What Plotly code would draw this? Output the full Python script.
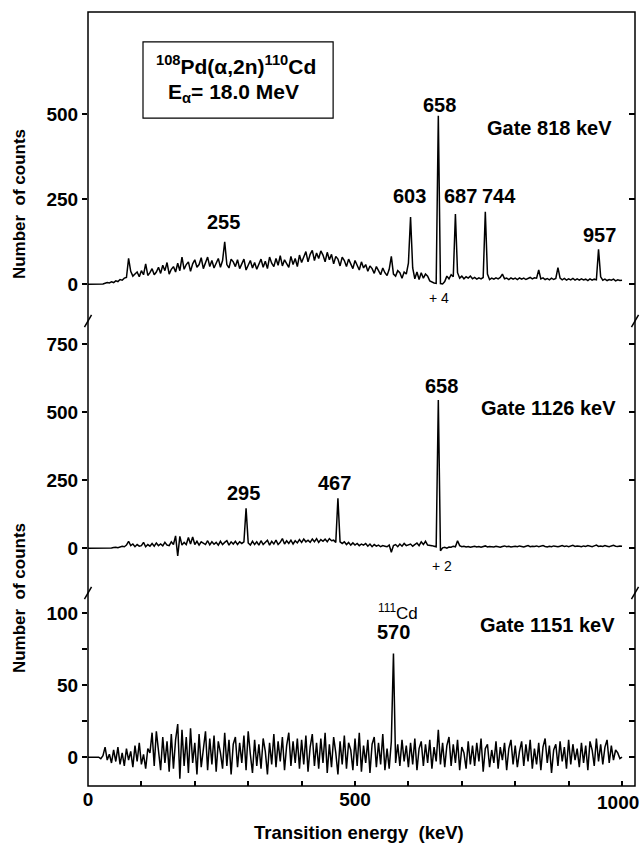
import plotly.graph_objects as go

# ---------------- data ----------------
ENERGY_KEV = list(range(0, 1001, 4))  # 4-keV channel grid, 0 ... 1000 keV

GATE_818 = [
    0, 0, 0, 0, 0, 1, 2, 1, 3, 5,
    4, 7, 5, 10, 8, 14, 12, 18, 20, 76,
    38, 24, 30, 36, 22, 40, 28, 60, 26, 34,
    46, 28, 36, 50, 32, 56, 40, 64, 30, 44,
    52, 36, 62, 40, 80, 44, 58, 66, 38, 60,
    72, 50, 58, 78, 46, 64, 80, 52, 70, 48,
    62, 76, 50, 70, 125, 58, 48, 74, 66, 52,
    72, 46, 60, 74, 42, 56, 70, 48, 64, 44,
    58, 74, 50, 68, 46, 80, 62, 52, 76, 56,
    84, 54, 72, 62, 50, 82, 58, 76, 52, 86,
    64, 80, 96, 66, 88, 100, 70, 92, 76, 98,
    86, 66, 94, 72, 88, 60, 82, 74, 54, 80,
    70, 52, 74, 60, 46, 70, 56, 42, 66, 48,
    58, 38, 54, 46, 32, 52, 40, 28, 48, 34,
    26, 44, 82, 30, 24, 40, 34, 18, 36, 30,
    62, 198, 48, 16, 36, 14, 34, 18, 30, 24,
    10, 6, 4, 3, 496, 2, 1, 8, 24, 16,
    28, 22, 207, 34, 18, 24, 16, 22, 18, 24,
    16, 20, 15, 19, 16, 20, 213, 30, 14, 18,
    15, 19, 16, 20, 30, 16, 18, 14, 19, 15,
    18, 14, 19, 15, 18, 14, 17, 20, 16, 19,
    18, 42, 16, 19, 14, 17, 13, 18, 14, 17,
    49, 18, 13, 17, 12, 16, 13, 17, 12, 16,
    12, 16, 13, 15, 11, 16, 12, 15, 13, 103,
    22, 12, 15, 11, 14, 12, 15, 10, 13, 11,
    12,
]

GATE_1126 = [
    0, 0, 0, 0, 0, 0, 0, 0, 1, 0,
    2, 1, 3, 4, 2, 5, 8, 6, 12, 26,
    10, 16, 6, 14, 8, 10, 22, 6, 14, 8,
    18, 8, 20, 10, 16, 9, 22, 12, 10, 24,
    14, 46, -28, 44, 12, 22, 14, 40, 16, 42,
    14, 26, 12, 24, 18, 14, 28, 13, 24, 15,
    22, 12, 26, 14, 22, 28, 12, 24, 16, 26,
    14, 24, 18, 24, 147, 20, 12, 26, 14, 24,
    12, 28, 14, 22, 30, 12, 26, 16, 30, 14,
    22, 36, 16, 28, 18, 30, 16, 28, 20, 32,
    22, 34, 24, 30, 22, 34, 24, 36, 22, 32,
    26, 34, 24, 36, 28, 30, 22, 184, 24, 18,
    24, 14, 22, 12, 20, 12, 18, 10, 16, 12,
    18, 8, 16, 6, 14, 8, 12, 6, 10, 8,
    6, 12, -14, 10, 14, 6, 16, 8, 18, 10,
    12, 16, 8, 14, 20, 10, 24, 14, 26, 12,
    12, 10, 8, 6, 545, -9, 2, 4, 1, 5,
    4, 8, 6, 28, 10, 6, 8, 5, 7, 4,
    6, 8, 5, 7, 4, 6, 9, 5, 7, 6,
    5, 8, 6, 4, 7, 9, 6, 8, 5, 7,
    8, 6, 9, 7, 5, 8, 10, 6, 8, 7,
    9, 6, 8, 10, 7, 5, 8, 6, 9, 7,
    6, 8, 10, 7, 9, 6, 8, 11, 7, 9,
    8, 6, 9, 7, 10, 8, 6, 9, 12, 7,
    9, 7, 10, 8, 6, 9, 11, 8, 7, 9,
    8,
]

GATE_1151 = [
    0, 0, 0, 0, 0, 0, -1, 1, 7, -2,
    2, -4, 5, -3, 7, -5, 3, -6, 6, -2,
    4, -7, 8, -3, 10, -5, 2, -8, 6, 3,
    17, -6, 18, 2, -9, 14, -4, 11, -10, 16,
    -8, 12, 23, -15, 19, -6, 14, -11, 20, -4,
    10, -12, 16, -7, 8, 18, -9, 13, -5, 15,
    -10, 11, 3, -8, 17, -6, 12, -12, 9, 14,
    -7, 10, -4, 15, -9, 18, 2, -11, 12, -6,
    9, -8, 13, 4, -12, 10, -5, 16, -7, 11,
    -3, 14, -9, 8, 17, -6, 11, -4, 13, -8,
    12, -5, 15, -10, 7, 16, -6, 10, -8, 13,
    -4, 17, -11, 9, -7, 14, 3, -12, 11, -5,
    15, -8, 10, 5, -9, 13, -6, 17, -10, 8,
    -4, 12, -11, 9, 14, -7, 10, -5, 16, -9,
    6, -8, 11, 72, -4, 9, -6, 12, -3, 8,
    -7, 10, -5, 13, -9, 6, 11, -6, 9, -4,
    12, -8, 7, -3, 19, -5, 10, -7, 8, 14,
    -6, 9, -4, 12, -9, 7, 3, -8, 11, -5,
    8, -6, 10, -3, 13, -10, 6, 9, -7, 5,
    -4, 11, -8, 7, -2, 10, -9, 6, 12, -5,
    8, -7, 4, 11, -6, 9, -3, 12, -8, 6,
    -5, 10, -9, 7, 13, -4, 8, -11, 5, 9,
    -6, 11, -3, 7, -8, 12, -5, 9, -2, 6,
    -7, 10, -4, 8, -9, 11, 5, -6, 13, -3,
    9, -5, 7, 12, -4, 8, -2, 5, 3, -1,
    0,
]

X_TICKS = [0, 100, 200, 300, 400, 500, 600, 700, 800, 900, 1000]
X_TICKTEXT = ["0", "", "", "", "", "500", "", "", "", "", ""]
X_END_LABEL = "1000"  # drawn as annotation, nudged left to stay in the page
Y1_TICKS = [0, 250, 500]
Y2_TICKS = [0, 250, 500, 750]
Y3_TICKS = [0, 25, 50, 75, 100]
Y3_TICKTEXT = ["0", "", "50", "", "100"]

# peak labels: (text, energy, counts)
LABELS_818 = [("255", 253, 184), ("603", 602, 260), ("658", 659, 527),
              ("687", 698, 260), ("744", 770, 260), ("957", 957, 145)]
LABELS_1126 = [("295", 291, 202), ("467", 462, 241), ("658", 662, 598)]
LABELS_1151 = [("570", 572, 87)]

# ---------------- figure ----------------
FONT = "Liberation Sans, Arial, Helvetica, sans-serif"
BOLD20 = dict(family=FONT, size=20, color="black", weight="bold")
BOLD19 = dict(family=FONT, size=19, color="black", weight="bold")

fig = go.Figure()
for vals, ya in [(GATE_818, "y"), (GATE_1126, "y2"), (GATE_1151, "y3")]:
    fig.add_trace(go.Scatter(x=ENERGY_KEV, y=vals, mode="lines",
                             line=dict(color="black", width=1.5),
                             xaxis="x", yaxis=ya, showlegend=False,
                             hoverinfo="skip"))
for ya in ["y4", "y5", "y6"]:
    fig.add_trace(go.Scatter(x=[None], y=[None], mode="lines", xaxis="x",
                             yaxis=ya, showlegend=False, hoverinfo="skip"))

D1 = [0.6008, 1.0]
D2 = [0.2494, 0.6008]
D3 = [0.0, 0.2494]
R1 = [-108, 801]
R2 = [-164, 836]
R3 = [-20, 114]

left = dict(showgrid=False, zeroline=False, showline=False, ticks="outside",
            ticklen=5, tickwidth=1.5, tickcolor="black", tickfont=BOLD19,
            anchor="x", fixedrange=True, automargin=False)
right = dict(showgrid=False, zeroline=False, showline=False, ticks="inside",
             ticklen=6, tickwidth=1.5, tickcolor="black", showticklabels=False,
             anchor="x", side="right", fixedrange=True, automargin=False)

fig.update_layout(
    width=641, height=846,
    margin=dict(l=88, r=6, t=12, b=60, autoexpand=False),
    paper_bgcolor="white", plot_bgcolor="white",
    showlegend=False,
    xaxis=dict(domain=[0, 1], anchor="y3", range=[0, 1024.3],
               tickvals=X_TICKS, ticktext=X_TICKTEXT, ticks="inside",
               ticklen=5, tickwidth=1.5, tickcolor="black",
               showgrid=False, zeroline=False, showline=False,
               tickfont=BOLD19, fixedrange=True, automargin=False),
    yaxis=dict(domain=D1, range=R1, tickvals=Y1_TICKS, **left),
    yaxis2=dict(domain=D2, range=R2, tickvals=Y2_TICKS, **left),
    yaxis3=dict(domain=D3, range=R3, tickvals=Y3_TICKS,
                ticktext=Y3_TICKTEXT, **left),
    yaxis4=dict(overlaying="y", range=R1, tickvals=Y1_TICKS, **right),
    yaxis5=dict(overlaying="y2", range=R2, tickvals=Y2_TICKS, **right),
    yaxis6=dict(overlaying="y3", range=R3, tickvals=Y3_TICKS, **right),
)

C = dict(xanchor="center", yanchor="middle", showarrow=False)

ann = []
for items, yref in [(LABELS_818, "y"), (LABELS_1126, "y2"), (LABELS_1151, "y3")]:
    for t, xv, yv in items:
        ann.append(dict(text=t, x=xv, y=yv, xref="x", yref=yref,
                        font=BOLD20, **C))

ann += [
    dict(text="Gate 818 keV", x=865, y=461, xref="x", yref="y",
         font=BOLD20, **C),
    dict(text="Gate 1126 keV", x=862, y=515, xref="x", yref="y2",
         font=BOLD20, **C),
    dict(text="Gate 1151 keV", x=860, y=92, xref="x", yref="y3",
         font=BOLD20, **C),
    dict(text="+ 4", x=657, y=-41, xref="x", yref="y",
         font=dict(family=FONT, size=14, color="black"), **C),
    dict(text="+ 2", x=662, y=-64, xref="x", yref="y2",
         font=dict(family=FONT, size=14, color="black"), **C),
    dict(text="<sup>111</sup>Cd", x=580, y=101, xref="x", yref="y3",
         font=dict(family=FONT, size=17, color="black"), **C),
    dict(text="<sup>108</sup>Pd(\u03b1,2n)<sup>110</sup>Cd", x=277, y=645,
         xref="x", yref="y",
         font=dict(family=FONT, size=21, color="black", weight="bold"), **C),
    dict(text="E<sub>\u03b1</sub>= 18.0 MeV", x=273, y=562,
         xref="x", yref="y",
         font=dict(family=FONT, size=21, color="black", weight="bold"), **C),
    dict(text="Number\u00a0 of counts", x=-0.124, y=0.752, xref="paper",
         yref="paper", textangle=-90,
         font=dict(family=FONT, size=17, color="black", weight="bold"), **C),
    dict(text="Number\u00a0 of counts", x=-0.124, y=0.243, xref="paper",
         yref="paper", textangle=-90,
         font=dict(family=FONT, size=17, color="black", weight="bold"), **C),
    dict(text="Transition energy\u00a0 (keV)", x=0.495, y=-0.0605,
         xref="paper", yref="paper",
         font=dict(family=FONT, size=18.5, color="black", weight="bold"), **C),
    dict(text=X_END_LABEL, x=1000, y=-0.0207, xref="x", yref="paper",
         xshift=-4, font=BOLD19, **C),
]
fig.update_layout(annotations=ann)

shapes = [
    # outer frame
    dict(type="rect", xref="paper", yref="paper", x0=0, x1=1, y0=0, y1=1,
         line=dict(color="black", width=1.5)),
    # legend box in top panel
    dict(type="rect", xref="x", yref="y", x0=103, x1=459, y0=489, y1=713,
         line=dict(color="black", width=1.2)),
]
dx, dy = 0.0065, 0.008
for xb in (0.0, 1.0):
    for yb in (D1[0], D2[0]):
        shapes.append(dict(type="line", xref="paper", yref="paper",
                           x0=xb - dx, x1=xb + dx, y0=yb - dy, y1=yb + dy,
                           line=dict(color="black", width=1.5)))
fig.update_layout(shapes=shapes)

fig.write_html("out.html")
